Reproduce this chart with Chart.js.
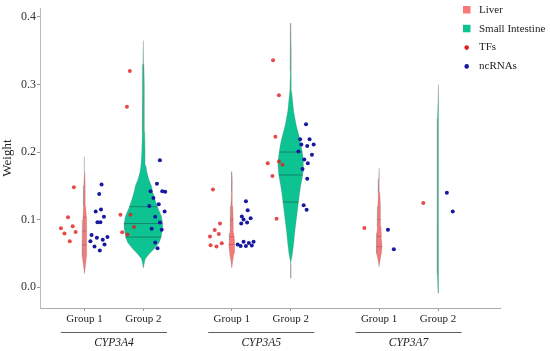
<!DOCTYPE html>
<html>
<head>
<meta charset="utf-8">
<script src="https://cdn.jsdelivr.net/npm/chart.js@4.4.1/dist/chart.umd.min.js"></script>
<style>
  html, body { margin: 0; padding: 0; background: #fff; }
  #wrap { width: 550px; height: 351px; position: relative; }
</style>
</head>
<body>
<div id="wrap"><canvas id="violinChart"></canvas></div>
<script>
// groups along the x axis
const groupX = [1, 2, 3.5, 4.5, 6, 7];
const groupLabels = ['Group 1', 'Group 2', 'Group 1', 'Group 2', 'Group 1', 'Group 2'];
const genes = ['CYP3A4', 'CYP3A5', 'CYP3A7'];
const yTicks = [0.0, 0.1, 0.2, 0.3, 0.4];

// violin outlines: weight levels and half widths (x units), one row per group
const violinLevels = [
    [0.02, 0.03, 0.045, 0.055, 0.065, 0.075, 0.09, 0.1, 0.12, 0.15, 0.17, 0.193],
    [0.028, 0.036, 0.042, 0.049, 0.057, 0.066, 0.074, 0.085, 0.094, 0.105, 0.119, 0.13, 0.14, 0.15, 0.16, 0.17, 0.18, 0.2, 0.23, 0.26, 0.3, 0.33, 0.365],
    [0.028, 0.04, 0.05, 0.062, 0.07, 0.08, 0.09, 0.1, 0.12, 0.14, 0.16, 0.171],
    [0.013, 0.035, 0.05, 0.065, 0.08, 0.098, 0.11, 0.126, 0.14, 0.15, 0.16, 0.17, 0.18, 0.19, 0.2, 0.21, 0.22, 0.24, 0.26, 0.29, 0.32, 0.35, 0.391],
    [0.03, 0.04, 0.05, 0.059, 0.07, 0.08, 0.09, 0.1, 0.12, 0.14, 0.16, 0.176],
    [-0.009, 0.02, 0.05, 0.1, 0.15, 0.2, 0.25, 0.3]
];
const violinHalf = [
    [0, 0.015, 0.032, 0.040, 0.042, 0.040, 0.032, 0.026, 0.018, 0.012, 0.007, 0],
    [0, 0.017, 0.034, 0.098, 0.187, 0.268, 0.302, 0.322, 0.328, 0.305, 0.238, 0.195, 0.161, 0.136, 0.090, 0.060, 0.042, 0.028, 0.022, 0.018, 0.014, 0.009, 0],
    [0, 0.018, 0.038, 0.050, 0.042, 0.033, 0.027, 0.022, 0.016, 0.011, 0.005, 0],
    [0, 0, 0.031, 0.051, 0.068, 0.093, 0.110, 0.132, 0.153, 0.170, 0.192, 0.209, 0.217, 0.212, 0.195, 0.178, 0.153, 0.093, 0.051, 0.016, 0.010, 0.007, 0],
    [0, 0.018, 0.038, 0.050, 0.042, 0.037, 0.032, 0.026, 0.020, 0.013, 0.006, 0],
    [0, 0.005, 0.012, 0.016, 0.016, 0.013, 0.009, 0]
];
const quantiles = [
    [0.0625, 0.083, 0.103],
    [0.074, 0.094, 0.119],
    [0.063, 0.075, 0.1],
    [0.126, 0.166, 0.2],
    [0.06, 0.075, 0.1],
    []
];

// TFs (red points)
const tfX = [0.82, 0.72, 0.60, 0.80, 0.85, 0.66, 0.75,
             1.77, 1.72, 1.61, 1.78, 1.84, 1.64, 1.73,
             3.18, 3.30, 3.21, 3.28, 3.13, 3.33, 3.14, 3.24,
             4.20, 4.30, 4.24, 4.11, 4.30, 4.36, 4.19, 4.26,
             5.75, 6.75];
const tfY = [0.148, 0.1035, 0.087, 0.090, 0.0815, 0.0795, 0.068,
             0.320, 0.267, 0.107, 0.107, 0.089, 0.081, 0.078,
             0.1445, 0.094, 0.0845, 0.0786, 0.075, 0.065, 0.062, 0.060,
             0.336, 0.284, 0.2225, 0.1835, 0.186, 0.181, 0.1645, 0.101,
             0.0874, 0.1245];

// ncRNAs (blue points)
const ncX = [1.29, 1.25, 1.28, 1.19, 1.33, 1.22, 1.27, 1.12, 1.21, 1.39, 1.10, 1.31, 1.17, 1.34, 1.26,
             2.28, 2.23, 2.12, 2.32, 2.37, 2.17, 2.26, 2.10, 2.36, 2.20, 2.28, 2.14, 2.31, 2.20, 2.24,
             3.74, 3.77, 3.67, 3.82, 3.70, 3.76, 3.66, 3.60, 3.65, 3.70, 3.74, 3.79, 3.84, 3.87,
             4.76, 4.66, 4.82, 4.68, 4.78, 4.89, 4.63, 4.86, 4.73, 4.79, 4.70, 4.78, 4.72, 4.77,
             6.15, 6.25, 7.15, 7.25];
const ncY = [0.152, 0.138, 0.115, 0.112, 0.104, 0.096, 0.096, 0.077, 0.073, 0.074, 0.068, 0.070, 0.060, 0.063, 0.054,
             0.188, 0.153, 0.142, 0.142, 0.141, 0.132, 0.1225, 0.120, 0.112, 0.104, 0.0956, 0.0864, 0.085, 0.066, 0.0575,
             0.127, 0.1138, 0.1044, 0.102, 0.100, 0.0956, 0.094, 0.063, 0.061, 0.067, 0.061, 0.0654, 0.0615, 0.067,
             0.241, 0.219, 0.219, 0.211, 0.209, 0.211, 0.2006, 0.196, 0.189, 0.1835, 0.175, 0.1606, 0.121, 0.1146,
             0.085, 0.056, 0.1396, 0.112];

const LIVER = 'rgba(247, 100, 100, 0.88)';
const GUT = 'rgba(0, 192, 140, 0.95)';
const SERIF = "'Liberation Serif', 'Times New Roman', serif";

function halfAt(levels, half, y) {
    for (let i = 1; i < levels.length; i++) {
        if (y <= levels[i]) {
            const t = (y - levels[i - 1]) / (levels[i] - levels[i - 1]);
            return half[i - 1] + t * (half[i] - half[i - 1]);
        }
    }
    return 0;
}

const datasets = [];
groupX.forEach((cx, g) => {
    const ys = violinLevels[g];
    const ws = violinHalf[g];
    const right = ys.map((y, i) => ({ x: cx + ws[i], y: y }));
    const left = ys.map((y, i) => ({ x: cx - ws[i], y: y })).reverse();
    const isLiver = g % 2 === 0;
    datasets.push({
        type: 'line',
        data: right.concat(left),
        fill: 'shape',
        backgroundColor: isLiver ? LIVER : GUT,
        borderColor: 'rgba(110, 110, 110, 0.5)',
        borderWidth: 0.5,
        pointRadius: 0,
        tension: 0,
        order: 3
    });
    quantiles[g].forEach(q => {
        const w = halfAt(ys, ws, q);
        datasets.push({
            type: 'line',
            data: [{ x: cx - w, y: q }, { x: cx + w, y: q }],
            borderColor: isLiver ? 'rgba(170, 60, 60, 0.5)' : 'rgba(20, 90, 70, 0.75)',
            borderWidth: 0.8,
            pointRadius: 0,
            fill: false,
            order: 2
        });
    });
});

datasets.push({
    label: 'TFs',
    data: tfX.map((x, i) => ({ x: x, y: tfY[i] })),
    backgroundColor: 'rgba(226, 28, 28, 0.8)',
    borderWidth: 0,
    pointRadius: 2,
    order: 1
});
datasets.push({
    label: 'ncRNAs',
    data: ncX.map((x, i) => ({ x: x, y: ncY[i] })),
    backgroundColor: '#1818a0',
    borderWidth: 0,
    pointRadius: 2,
    order: 0
});

// gene brackets under the group labels
const genePlugin = {
    id: 'genes',
    afterDraw(chart) {
        const ctx = chart.ctx;
        const xs = chart.scales.x;
        const base = chart.chartArea.bottom;
        ctx.save();
        genes.forEach((name, i) => {
            const mid = (groupX[2 * i] + groupX[2 * i + 1]) / 2;
            const a = xs.getPixelForValue(mid - 0.9);
            const b = xs.getPixelForValue(mid + 0.9);
            ctx.strokeStyle = '#333';
            ctx.lineWidth = 0.8;
            ctx.beginPath();
            ctx.moveTo(a, base + 24.5);
            ctx.lineTo(b, base + 24.5);
            ctx.stroke();
            ctx.fillStyle = '#222';
            ctx.font = 'italic 11.5px ' + SERIF;
            ctx.textAlign = 'center';
            ctx.textBaseline = 'middle';
            ctx.fillText(name, xs.getPixelForValue(mid), base + 35);
        });
        ctx.restore();
    }
};

// legend in the top right corner
const legendPlugin = {
    id: 'sideLegend',
    afterDraw(chart) {
        const ctx = chart.ctx;
        const items = [
            { text: 'Liver', color: LIVER, box: true },
            { text: 'Small Intestine', color: GUT, box: true },
            { text: 'TFs', color: '#e21c1c', box: false },
            { text: 'ncRNAs', color: '#1818a0', box: false }
        ];
        ctx.save();
        ctx.font = '11px ' + SERIF;
        ctx.textBaseline = 'middle';
        ctx.textAlign = 'left';
        items.forEach((it, i) => {
            const y = 10 + i * 18.8;
            ctx.fillStyle = it.color;
            if (it.box) {
                ctx.fillRect(463, y - 4, 7.5, 7.5);
            } else {
                ctx.beginPath();
                ctx.arc(466.7, y, 2.3, 0, Math.PI * 2);
                ctx.fill();
            }
            ctx.fillStyle = '#222';
            ctx.fillText(it.text, 479, y);
        });
        ctx.restore();
    }
};

const ctx = document.getElementById('violinChart').getContext('2d');
new Chart(ctx, {
    type: 'scatter',
    data: { datasets: datasets },
    plugins: [genePlugin, legendPlugin],
    options: {
        responsive: true,
        maintainAspectRatio: false,
        animation: false,
        layout: { padding: { top: 5, right: 50, left: 0, bottom: 0 } },
        plugins: {
            legend: { display: false },
            tooltip: { enabled: false }
        },
        scales: {
            x: {
                type: 'linear',
                min: 0.245,
                max: 8.052,
                afterBuildTicks: scale => {
                    scale.ticks = groupX.map(v => ({ value: v }));
                },
                afterFit: scale => { scale.height = 43; },
                grid: { drawOnChartArea: false, drawTicks: true, tickLength: 3, color: '#999' },
                border: { display: true, color: '#aaa', width: 1 },
                ticks: {
                    autoSkip: false,
                    maxRotation: 0,
                    padding: 2,
                    color: '#222',
                    font: { family: SERIF, size: 11 },
                    callback: (value, index) => groupLabels[index]
                }
            },
            y: {
                min: -0.031,
                max: 0.413,
                afterBuildTicks: scale => {
                    scale.ticks = yTicks.map(v => ({ value: v }));
                },
                afterFit: scale => { scale.width = 40; },
                grid: { drawOnChartArea: false, drawTicks: true, tickLength: 3, color: '#999' },
                border: { display: true, color: '#bbb', width: 1 },
                ticks: {
                    padding: 1,
                    color: '#333',
                    font: { family: SERIF, size: 12 },
                    callback: value => value.toFixed(1)
                },
                title: {
                    display: true,
                    text: 'Weight',
                    color: '#222',
                    padding: { top: 0, bottom: 0 },
                    font: { family: SERIF, size: 13 }
                }
            }
        }
    }
});
</script>
</body>
</html>
